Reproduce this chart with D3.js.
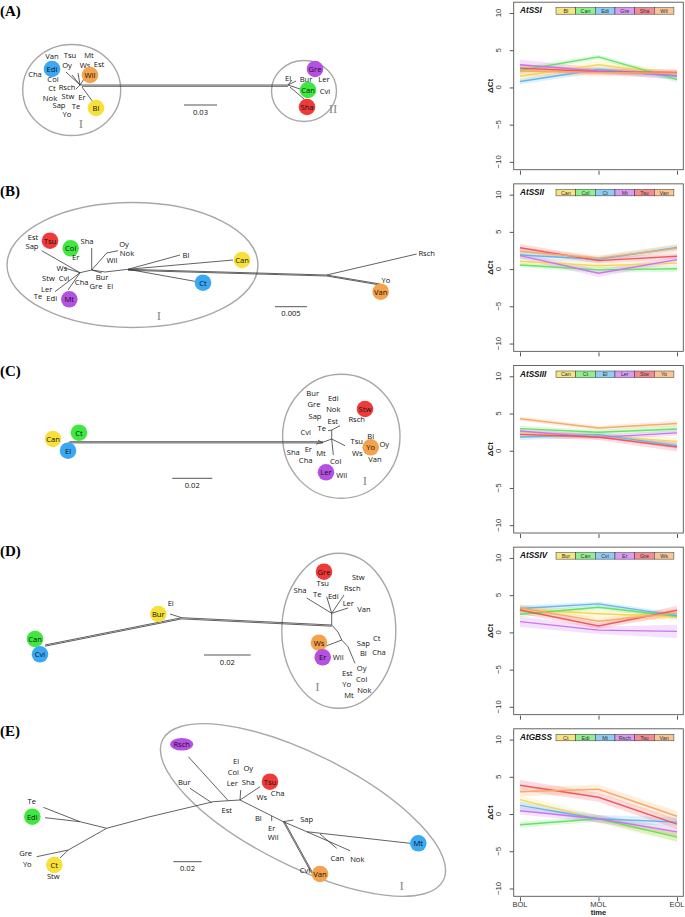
<!DOCTYPE html>
<html><head><meta charset="utf-8">
<script src="https://cdn.jsdelivr.net/npm/d3@7"></script>
<style>body{margin:0;background:#fff}svg{display:block}</style>
</head><body>
<script>
// ---------------- line-chart data ----------------
const times = ["BOL","MOL","EOL"];
const yTicks = [-10,-5,0,5,10];
const genes = ["AtSSI","AtSSII","AtSSIII","AtSSIV","AtGBSS"];

const acc_A = ["Bl","Can","Edi","Gre","Sha","Wil"];
const val_A = [[1.5,3.05,1.7],[2.27,4.1,1.05],[0.8,2.4,1.5],[3.05,2.2,1.6],[2.6,2.1,2.0],[2.2,2.0,1.9]];
const se_A  = [[0.6,0.5,0.5],[0.4,0.3,0.4],[0.4,0.4,0.5],[0.7,0.4,0.5],[0.5,0.4,0.4],[0.7,0.5,0.5]];

const acc_B = ["Can","Col","Ct","Mt","Tsu","Van"];
const val_B = [[1.05,0.45,0.8],[0.55,-0.1,0.05],[1.9,1.3,2.9],[1.8,-0.55,1.27],[2.86,1.14,1.73],[2.4,1.45,2.8]];
const se_B  = [[0.4,0.4,0.4],[0.3,0.4,0.4],[0.5,0.4,0.4],[0.4,0.5,0.4],[0.5,0.4,0.4],[0.5,0.4,0.5]];

const acc_C = ["Can","Ct","El","Ler","Stw","Yo"];
const val_C = [[2.3,2.0,1.26],[2.97,2.48,2.93],[1.85,2.16,0.68],[2.66,1.8,2.4],[2.2,1.85,0.5],[4.3,3.05,3.65]];
const se_C  = [[0.4,0.4,0.5],[0.4,0.3,0.5],[0.4,0.4,0.4],[0.4,0.3,0.4],[0.4,0.4,0.6],[0.3,0.3,0.4]];

const acc_D = ["Bur","Can","Cvi","Er","Gre","Ws"];
const val_D = [[3.1,2.5,2.1],[2.43,3.38,2.16],[3.2,3.83,2.25],[1.44,0.3,0.13],[3.0,0.86,2.97],[3.3,1.5,2.6]];
const se_D  = [[0.5,0.5,0.5],[0.4,0.3,0.4],[0.4,0.3,0.4],[0.7,0.5,0.9],[0.5,0.4,0.6],[0.5,0.4,0.6]];

const acc_E = ["Ct","Edi","Mt","Rsch","Tsu","Van"];
const val_E = [[1.94,-0.68,-3.0],[-1.44,-0.63,-3.1],[1.17,-0.63,-1.08],[0.45,-0.63,-2.4],[3.87,2.25,-1.35],[3.0,3.33,-0.3]];
const se_E  = [[0.5,0.6,0.8],[0.4,0.4,0.6],[0.5,0.5,0.6],[0.5,0.5,0.6],[0.7,0.6,0.7],[0.6,0.6,0.7]];

const panels = [
  {gene:genes[0], acc:acc_A, val:val_A, se:se_A},
  {gene:genes[1], acc:acc_B, val:val_B, se:se_B},
  {gene:genes[2], acc:acc_C, val:val_C, se:se_C},
  {gene:genes[3], acc:acc_D, val:val_D, se:se_D},
  {gene:genes[4], acc:acc_E, val:val_E, se:se_E}
];
const seriesColors = ["#f4d54e","#5fe05f","#5cb2ee","#c86ff0","#f0505c","#f5a862"];
const legendColors = ["#f6e482","#8ef08e","#92ccf4","#d99cf4","#f48a92","#f8c596"];
const dotColors = {y:"#f7e03a", g:"#3fe83f", b:"#3aa8f2", v:"#b650e2", r:"#f03a3a", o:"#f5a24c"};

// ---------------- tree data (local panel units, branch-length drawing space) ----------------
const panelLetters = ["(A)","(B)","(C)","(D)","(E)"];
const treeEdges_A = [
  [[80,85],[288,85]],[[82,86.3],[288,86.3]],
  [[80,85],[66,72]],[[80,85],[72,75]],[[80,85],[78,73]],[[80,85],[86,76]],
  [[82,87],[93,102]],[[80,85],[76,89]],
  [[288,85],[296,81]],[[288,85],[300,89]],[[290,87],[304,99]],[[288,85],[292,80]]
];
const treeLabels_A = [
  ["Van",52,56,""],["Tsu",70,55,""],["Mt",89,55,""],["Oy",67,65,""],["Ws",85,65,""],["Est",99,64,""],
  ["Edi",52,69,"b"],["Wil",90,75,"o"],["Cha",35,74,""],["Col",53,79,""],["Ct",52,88,""],["Rsch",67,87,""],
  ["Nok",50,97.5,""],["Stw",68,96,""],["Er",82,97,""],["Sap",59,105,""],["Te",76,106,""],["Yo",67,114,""],
  ["Bl",96,108,"y"],
  ["Gre",315,69,"v"],["El",288,78,""],["Bur",306,79,""],["Ler",324,79,""],["Can",308,90,"g"],["Cvi",325,91,""],["Sha",307,107,"r"]
];
const treeHulls_A = [[71.7,90,49,45.5,0,"I",81,123],[304,91,32.5,30.5,0,"II",333,108]];
const scaleBar_A = ["0.03",184,217,105];

const treeEdges_B = [
  [[41.7,70.7],[80,92.7]],[[65,88],[80,92.7]],[[55,111.7],[80,92.7]],[[68,110],[80,92.7]],
  [[80,92.7],[91.7,90]],[[91.7,90],[91.7,68]],[[91.7,90],[106.7,73],[118,70.7]],[[91.7,90],[101.7,93]],
  [[91.7,90],[105,92],[128,89.3]],[[128,89.3],[180,75]],[[128,89.3],[233,80]],[[128,89.3],[197,101.7]],
  [[128,89.3],[326.7,95]],[[128,90.3],[326.7,96]],[[326.7,95],[416.7,74]],[[326.7,95],[380,104]],[[326.7,96],[380,105]]
];
const treeLabels_B = [
  ["Est",33,56.7,""],["Sap",32,66,""],["Tsu",50,60.7,"r"],["Col",70.7,68.3,"g"],["Sha",87,60.7,""],
  ["Oy",124,64,""],["Nok",127,72.7,""],["Wil",112,80,""],["Er",75.7,77,""],["Bl",186,75,""],["Can",242,80,"y"],
  ["Ws",61.7,87.6,""],["Stw",48.5,98.2,""],["Cvi",64,97.8,""],["Cha",81.7,101.7,""],["Bur",102,96.5,""],["Gre",96,105.5,""],
  ["El",110,106,""],["Ler",46.7,109.3,""],["Te",38,116,""],["Edi",51.7,118,""],["Mt",69.3,119.3,"v"],
  ["Ct",203,102.7,"b"],["Rsch",426.7,73,""],["Yo",386,100,""],["Van",380.7,111.7,"o"]
];
const treeHulls_B = [[132.5,85,125.5,62.5,0,"I",159,135]];
const scaleBar_B = ["0.005",275,307,126.7];

const treeEdges_C = [
  [[70,81.7],[323,81.7]],[[70,82.9],[323,82.9]],[[70,81.7],[67,84]],
  [[321.7,82.7],[331.7,79]],[[331.7,79],[331.7,70]],[[331.7,70],[328,70.7]],[[331.7,70],[340,65.7]],
  [[331.7,79],[333.3,95]],[[331.7,79],[345,85.7]],[[321.7,82.7],[318,80]],[[321.7,82.7],[316,84]]
];
const treeLabels_C = [
  ["Can",53,79,"y"],["Ct",79,72.7,"g"],["El",68,90.7,"b"],
  ["Bur",312.7,32.7,""],["Edi",333.3,37.7,""],["Gre",314,44,""],["Nok",333.3,49.3,""],["Stw",365,49,"r"],
  ["Sap",315,56,""],["Est",332.7,61,""],["Rsch",356.7,59.3,""],["Te",321.7,68.3,""],["Cvi",305.7,72.3,""],
  ["Bl",370.7,75.7,""],["Tsu",356.7,80.7,""],["Yo",370.7,87.3,"o"],["Oy",384.3,84,""],["Sha",293.3,91.7,""],
  ["Er",308.3,89.3,""],["Mt",321,92.7,""],["Ws",357.3,93.3,""],["Cha",305.7,100,""],["Van",375,99.3,""],
  ["Col",335.7,101,""],["Ler",326,112.3,"v"],["Wil",341.7,115,""]
];
const treeHulls_C = [[341.3,76.3,58.7,62,0,"I",365,120]];
const scaleBar_C = ["0.02",172.3,212.3,118.3];

const treeEdges_D = [
  [[45,105],[181.7,77.7]],[[45,106.2],[181.7,78.9]],[[181.7,77.7],[170,74]],
  [[181.7,77.7],[331.7,85]],[[181.7,78.9],[331.7,86.2]],[[331.7,85],[331.7,73.3]],[[331.7,73.3],[306.7,58]],
  [[331.7,73.3],[326.7,56.7]],[[331.7,73.3],[344,55]],[[331.7,73.3],[341.7,70],[348,68]],
  [[331.7,85],[338,92],[341.7,100]],[[341.7,100],[320,108.3]],[[341.7,100],[348,106.7]],[[348,106.7],[355,123.3]]
];
const treeLabels_D = [
  ["Can",35,99,"g"],["Cvi",40,114.3,"b"],["Bur",158.3,74,"y"],["El",170.7,63.3,""],
  ["Gre",324,31.7,"r"],["Stw",358.3,37.3,""],["Tsu",322.7,43.3,""],["Rsch",352.3,48.3,""],["Sha",300,50,""],
  ["Te",317.3,54,""],["Edi",333.3,55.7,""],["Ler",348.3,62.7,""],["Van",364,69,""],["Ct",376.7,97.7,""],
  ["Ws",319,102.7,"o"],["Sap",363.3,103.3,""],["Bl",363.3,113.3,""],["Cha",379,112.3,""],["Er",322.7,117.3,"v"],
  ["Wil",338.3,117.3,""],["Oy",361.7,128.3,""],["Est",347.3,132.7,""],["Col",361.7,139.3,""],["Yo",346.7,144,""],
  ["Nok",364.3,150,""],["Mt",349,155,""]
];
const treeHulls_D = [[338.8,90.8,57,77.5,0,"I",317.3,146.7]];
const scaleBar_D = ["0.02",204,250.7,115];

const treeEdges_E = [
  [[80,101.7],[43.3,87.3]],[[80,101.7],[45,97.7]],[[106.7,108.3],[80,101.7]],[[106.7,108.3],[68.3,130]],
  [[68.3,130],[36.7,136.7]],[[68.3,130],[60,138]],
  [[106.7,108.3],[150,96.7],[213.3,81.7],[228.3,80.7],[240,80]],
  [[190,68.3],[211.7,82.7]],[[188.3,36.7],[228.3,80.7]],[[240,80],[240.7,70]],[[240,80],[260,66.7]],
  [[240,80],[283.3,101.7]],[[283.3,101.7],[293.3,100]],[[271.7,96],[271.7,101]],
  [[283.3,101.7],[311.7,153.3]],[[284.5,101.7],[312.9,153.3]],[[283.3,101.7],[306.7,111.7],[410,123.3]],
  [[306.7,111.7],[350,130.7]],[[320,114],[336.7,128.3]]
];
const treeLabels_E = [
  ["Rsch",181.7,24.3,"v"],["El",236,41,""],["Oy",248.3,47.7,""],["Col",233.3,52.3,""],["Tsu",270,61.7,"r"],
  ["Bur",184.3,61.7,""],["Ler",232.3,62.7,""],["Sha",248.3,62.3,""],["Cha",277.7,72.7,""],["Ws",261.7,76.7,""],
  ["Te",31.7,81,""],["Est",226.7,90,""],["Edi",32.3,96.7,"g"],["Sap",306.7,99,""],["Bl",258.3,97.7,""],
  ["Er",271.7,107.7,""],["Wil",273.3,116.7,""],["Mt",418.3,123.3,"b"],["Gre",25.7,133.3,""],["Can",337.3,138.3,""],
  ["Nok",357.3,139.3,""],["Yo",27.3,144.3,""],["Ct",54.3,145,"y"],["Cvi",305,150,""],["Van",320,154,"o"],["Stw",53.3,156,""]
];
const treeHulls_E = [[303,90,157,56,26.6,"I",401.7,165]];
const scaleBar_E = ["0.02",173.3,201.7,141.7];

const trees = [
  {edges:treeEdges_A, labels:treeLabels_A, hulls:treeHulls_A, bar:scaleBar_A},
  {edges:treeEdges_B, labels:treeLabels_B, hulls:treeHulls_B, bar:scaleBar_B},
  {edges:treeEdges_C, labels:treeLabels_C, hulls:treeHulls_C, bar:scaleBar_C},
  {edges:treeEdges_D, labels:treeLabels_D, hulls:treeHulls_D, bar:scaleBar_D},
  {edges:treeEdges_E, labels:treeLabels_E, hulls:treeHulls_E, bar:scaleBar_E}
];

// ---------------- drawing ----------------
const W = 685, H = 917;
const svg = d3.select("body").append("svg").attr("width", W).attr("height", H);
const pitch = 181.65;
const treeFont = "'Open Sans', 'Noto Sans', sans-serif";

trees.forEach((t, i) => {
  const off = i * 180;
  const tx = d3.scaleLinear().domain([0, 470]).range([0, 470]);
  const ty = d3.scaleLinear().domain([0, 180]).range([off, off + 180]);
  const g = svg.append("g");
  g.append("text").attr("x", 0).attr("y", off + 15.5)
    .attr("font-family", "'Liberation Serif', serif").attr("font-weight", "bold")
    .attr("font-size", 15).text(panelLetters[i]);
  t.hulls.forEach(h => {
    g.append("ellipse")
      .attr("transform", `translate(${tx(h[0])},${ty(h[1])}) rotate(${h[4]})`)
      .attr("rx", h[2]).attr("ry", h[3])
      .attr("fill", "none").attr("stroke", "#a8a8a8").attr("stroke-width", 1.4);
    g.append("text").attr("x", tx(h[6])).attr("y", ty(h[7]))
      .attr("text-anchor", "middle").attr("dominant-baseline", "central")
      .attr("font-family", "'Liberation Serif', serif").attr("font-size", 13)
      .attr("fill", "#8a8a8a").text(h[5]);
  });
  const line = d3.line().x(p => tx(p[0])).y(p => ty(p[1]));
  g.selectAll("path.edge").data(t.edges).join("path").attr("class", "edge")
    .attr("d", line).attr("fill", "none").attr("stroke", "#3a3a3a").attr("stroke-width", 0.8);
  t.labels.forEach(l => {
    if (l[3]) {
      const isLong = l[0].length > 3;
      g.append("ellipse").attr("cx", tx(l[1])).attr("cy", ty(l[2]))
        .attr("rx", isLong ? 11.5 : 8.3).attr("ry", isLong ? 6.3 : 8.3)
        .attr("fill", dotColors[l[3]]);
    }
    g.append("text").attr("x", tx(l[1])).attr("y", ty(l[2]))
      .attr("text-anchor", "middle").attr("dominant-baseline", "central")
      .attr("font-family", treeFont).attr("font-size", 7.6).attr("fill", "#111").text(l[0]);
  });
  const b = t.bar;
  g.append("line").attr("x1", tx(b[1])).attr("x2", tx(b[2])).attr("y1", ty(b[3])).attr("y2", ty(b[3]))
    .attr("stroke", "#555").attr("stroke-width", 1);
  g.append("text").attr("x", tx((b[1] + b[2]) / 2)).attr("y", ty(b[3] + 6.5))
    .attr("text-anchor", "middle").attr("dominant-baseline", "central")
    .attr("font-family", treeFont).attr("font-size", 7.6).attr("fill", "#111").text(b[0]);
});

// line charts
const x = d3.scaleLinear().domain([-0.08, 2.08]).range([513.7, 683.3]);
panels.forEach((p, i) => {
  const y0 = 87.7 + i * pitch;
  const y = d3.scaleLinear().domain([-11.05, 11.45]).range([y0 + 82, y0 - 85.5]);
  const g = svg.append("g");
  const top = y(11.45), bot = y(-11.05);
  p.val.forEach((v, k) => {
    const area = d3.area().x((d, j) => x(j)).y0((d, j) => y(d - p.se[k][j])).y1((d, j) => y(d + p.se[k][j]));
    g.append("path").attr("d", area(v)).attr("fill", seriesColors[k]).attr("fill-opacity", 0.2);
  });
  p.val.forEach((v, k) => {
    const ln = d3.line().x((d, j) => x(j)).y(d => y(d));
    g.append("path").attr("d", ln(v)).attr("fill", "none").attr("stroke", seriesColors[k])
      .attr("stroke-width", 1.4).attr("stroke-opacity", 0.95);
  });
  g.append("rect").attr("x", x(-0.08)).attr("y", top).attr("width", x(2.08) - x(-0.08)).attr("height", bot - top)
    .attr("fill", "none").attr("stroke", "#555").attr("stroke-width", 0.9);
  const ya = g.append("g").attr("transform", `translate(${x(-0.08)},0)`)
    .call(d3.axisLeft(y).tickValues(yTicks).tickSize(4).tickFormat(""));
  ya.select(".domain").remove();
  ya.selectAll("line").attr("stroke", "#555");
  g.selectAll("text.yt").data(yTicks).join("text").attr("class", "yt")
    .attr("transform", d => `translate(498,${y(d)}) rotate(-90)`)
    .attr("text-anchor", "middle").attr("dominant-baseline", "central")
    .attr("font-family", "'Liberation Sans', Arial, sans-serif").attr("font-size", 7.8).attr("fill", "#333")
    .text(d => d < 0 ? "\u2212" + Math.abs(d) : d);
  g.append("text").attr("transform", `translate(490,${(top + bot) / 2}) rotate(-90)`)
    .attr("text-anchor", "middle").attr("dominant-baseline", "central")
    .attr("font-family", "'Liberation Sans', Arial, sans-serif").attr("font-size", 8).attr("font-weight", "bold")
    .attr("fill", "#222").text("\u0394Ct");
  const xa = g.append("g").attr("transform", `translate(0,${bot + 1})`)
    .call(d3.axisBottom(x).tickValues([0, 1, 2]).tickSize(4).tickFormat(""));
  xa.select(".domain").remove();
  xa.selectAll("line").attr("stroke", "#555");
  if (i === panels.length - 1) {
    g.selectAll("text.xt").data(times).join("text").attr("class", "xt")
      .attr("x", (d, j) => x(j)).attr("y", bot + 8.5)
      .attr("text-anchor", "middle").attr("dominant-baseline", "central")
      .attr("font-family", "'Liberation Sans', Arial, sans-serif").attr("font-size", 7.5).attr("fill", "#333")
      .text(d => d);
    g.append("text").attr("x", x(1)).attr("y", bot + 16.5)
      .attr("text-anchor", "middle").attr("dominant-baseline", "central")
      .attr("font-family", "'Liberation Sans', Arial, sans-serif").attr("font-size", 7.6).attr("font-weight", "bold")
      .attr("fill", "#222").text("time");
  }
  const ly = top + 5.5, lh = 6.5, lw = 19.65, lx = 556;
  g.append("text").attr("x", 520).attr("y", ly + lh / 2)
    .attr("dominant-baseline", "central")
    .attr("font-family", "'Liberation Sans', Arial, sans-serif").attr("font-size", 8.2)
    .attr("font-weight", "bold").attr("font-style", "italic").attr("fill", "#111").text(p.gene);
  p.acc.forEach((a, k) => {
    g.append("rect").attr("x", lx + k * lw).attr("y", ly).attr("width", lw).attr("height", lh)
      .attr("fill", legendColors[k]).attr("stroke", "#333").attr("stroke-width", 0.5);
    g.append("text").attr("x", lx + k * lw + lw / 2).attr("y", ly + lh / 2 + 0.2)
      .attr("text-anchor", "middle").attr("dominant-baseline", "central")
      .attr("font-family", "'Liberation Sans', Arial, sans-serif").attr("font-size", 5.4).attr("fill", "#333")
      .text(a);
  });
});
</script>
</body></html>
